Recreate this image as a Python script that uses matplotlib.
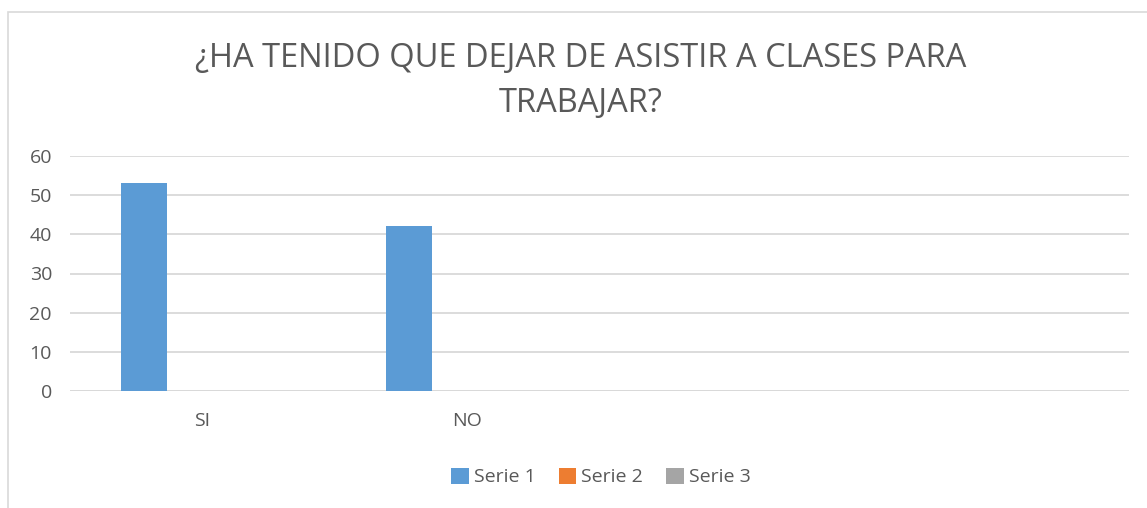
import matplotlib.pyplot as plt
import numpy as np
from matplotlib.patches import Rectangle

plt.rcParams['font.family'] = ['Open Sans', 'DejaVu Sans']

categories = ['SI', 'NO', '', '']
series_names = ['Serie 1', 'Serie 2', 'Serie 3']
serie1 = [53, 42, 0, 0]
serie2 = [0, 0, 0, 0]
serie3 = [0, 0, 0, 0]
colors = ['#5B9BD5', '#ED7D31', '#A5A5A5']
title = '¿HA TENIDO QUE DEJAR DE ASISTIR A CLASES PARA\nTRABAJAR?'

fig = plt.figure(figsize=(11.47, 5.08), dpi=100)
ax = fig.add_axes([70/1147, 1 - 391/508, (1129-70)/1147, (391-156)/508])

x = np.arange(len(categories))
w = 0.173
step = 0.219
for i, (vals, name) in enumerate(zip([serie1, serie2, serie3], series_names)):
    ax.bar(x + (i - 1) * step, vals, width=w, color=colors[i], label=name, zorder=3)

ax.set_xlim(-0.5, len(categories) - 0.5)
ax.set_ylim(0, 60)
ax.set_yticks(range(0, 61, 10))
ax.set_xticks(x)
ax.set_xticklabels(categories)
ax.tick_params(axis='both', length=0, labelsize=14, colors='#595959')
ax.tick_params(axis='x', pad=15)
ax.tick_params(axis='y', pad=13)
ax.grid(axis='y', color='#D9D9D9', linewidth=1.3, zorder=0)
for s in ax.spines.values():
    s.set_visible(False)
ax.axhline(0, color='#D9D9D9', linewidth=1.3, zorder=2)

fig.text(0.506, 1 - 81/508, title, ha='center', va='center', fontsize=23.5,
         color='#595959', linespacing=1.45)

leg = fig.legend(loc='center', bbox_to_anchor=(0.524, 1 - 477/508), ncol=3,
                 frameon=False, fontsize=14, handlelength=0.9, handleheight=0.9,
                 handletextpad=0.25, columnspacing=1.2)
for t in leg.get_texts():
    t.set_color('#595959')

fig.patches.append(Rectangle((8/1147, -0.01), 1.1, 1 - 12/508 + 0.01,
                             transform=fig.transFigure, fill=False,
                             edgecolor='#D9D9D9', linewidth=1.2))

fig.savefig('out.png', dpi=100)
